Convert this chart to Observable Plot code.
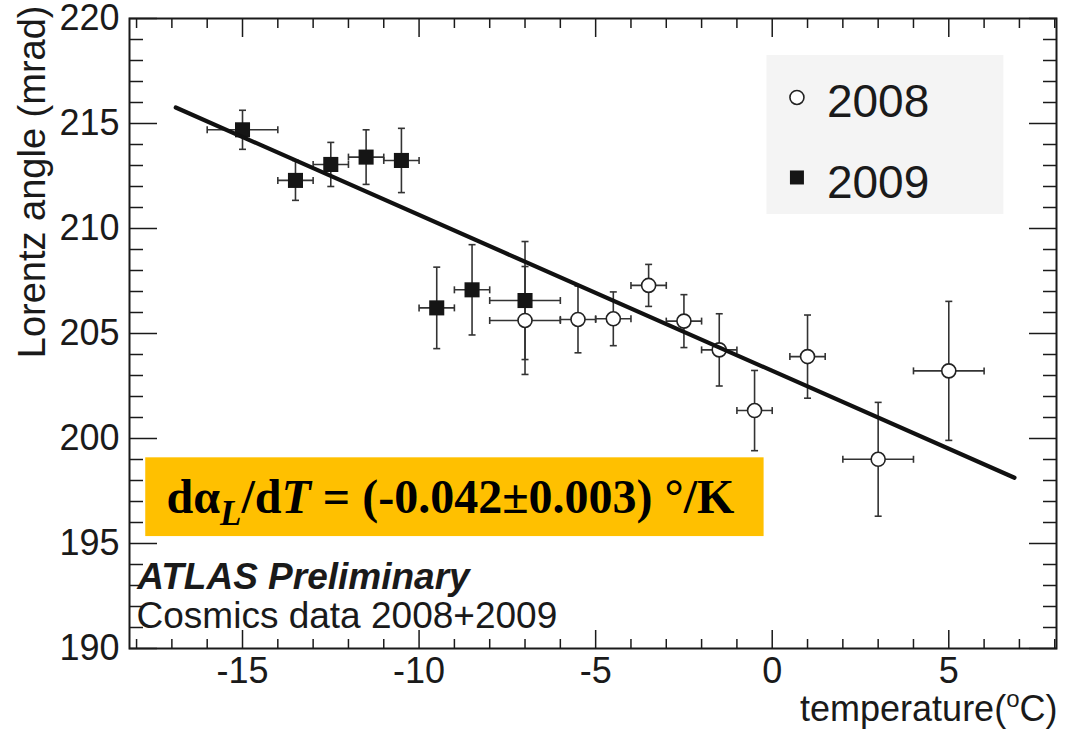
<!DOCTYPE html>
<html><head><meta charset="utf-8">
<script src="https://cdn.jsdelivr.net/npm/d3@7"></script>
<script src="https://cdn.jsdelivr.net/npm/@observablehq/plot@0.6"></script>
<style>body{margin:0;background:#fff;}</style>
</head><body><div id="chart"></div>
<script>
// ---- data ----
const temp2008  = [-7, -5.5, -4.5, -3.5, -2.5, -1.5, -0.5, 1, 3, 5];
const angle2008 = [205.62, 205.67, 205.70, 207.29, 205.59, 204.22, 201.33, 203.90, 199.01, 203.22];
const yErr2008  = [2.57, 1.59, 1.28, 1.00, 1.26, 1.72, 1.91, 1.98, 2.71, 3.31];
const xErr2008  = [1.0, 0.5, 0.5, 0.5, 0.5, 0.5, 0.5, 0.5, 1.0, 1.0];

const temp2009  = [-15, -13.5, -12.5, -11.5, -10.5, -9.5, -8.5, -7];
const angle2009 = [214.70, 212.29, 213.05, 213.40, 213.24, 206.22, 207.08, 206.57];
const yErr2009  = [0.93, 0.95, 1.05, 1.30, 1.53, 1.94, 2.15, 2.81];
const xErr2009  = [1.0, 0.5, 0.5, 0.5, 0.5, 0.5, 0.5, 1.0];

const fitTemp  = [-16.89, 6.86];
const fitAngle = [215.76, 198.13];

const xMajorTicks = [-15, -10, -5, 0, 5];
const xMinorTicks = [-18, -17, -16, -14, -13, -12, -11, -9, -8, -7, -6, -4, -3, -2, -1, 1, 2, 3, 4, 6, 7, 8];
const yMajorTicks = [190, 195, 200, 205, 210, 215, 220];
const yMinorTicks = [191, 192, 193, 194, 196, 197, 198, 199, 201, 202, 203, 204, 206, 207, 208, 209, 211, 212, 213, 214, 216, 217, 218, 219];

const xTitle = "temperature(°C)";
const yTitle = "Lorentz angle (mrad)";
const seriesNames = ["2008", "2009"];
const slopeText = "dα_L/dT = (-0.042±0.003) °/K";
const atlasText = "ATLAS Preliminary";
const dataText = "Cosmics data 2008+2009";

// annotation placement (data units)
const legendBox = {x1: -0.15, x2: 6.56, y1: 210.67, y2: 218.24};
const legendMarkX = 0.70, legendTextX = 1.55;
const legendRowY = [216.24, 212.43];
const legendTextY = [215.30, 211.45];
const slopeBox = {x1: -17.74, x2: -0.23, y1: 195.33, y2: 199.08};
const slopeTextPos = {x: -17.15, y: 196.45};
const atlasPos = {x: -17.98, y: 192.81};
const dataPos = {x: -18.0, y: 191.0};

// ---- tables ----
const pts2008 = temp2008.map((t, i) => ({t, a: angle2008[i], ex: xErr2008[i], ey: yErr2008[i]}));
const pts2009 = temp2009.map((t, i) => ({t, a: angle2009[i], ex: xErr2009[i], ey: yErr2009[i]}));
const allPts = pts2008.concat(pts2009);
const fitPts = fitTemp.map((t, i) => ({t, a: fitAngle[i]}));

const hCap = {draw(ctx, size) { const r = Math.sqrt(size / Math.PI); ctx.moveTo(-r, 0); ctx.lineTo(r, 0); }};
const vCap = {draw(ctx, size) { const r = Math.sqrt(size / Math.PI); ctx.moveTo(0, -r); ctx.lineTo(0, r); }};

const ink = "#1a1a1a";
const barColor = "#333";
const sans = "'Liberation Sans', Arial, Helvetica, sans-serif";
const plain = d => String(d);

const tickAx = (anchor, ticks, size) => (anchor === "bottom" || anchor === "top")
  ? Plot.axisX(ticks, {anchor, tickSize: size, tickFormat: () => "", label: null, strokeWidth: 1.5})
  : Plot.axisY(ticks, {anchor, tickSize: size, tickFormat: () => "", label: null, strokeWidth: 1.5});

const chart = Plot.plot({
  width: 1072,
  height: 734,
  marginLeft: 129,
  marginRight: 16,
  marginTop: 18,
  marginBottom: 86,
  style: {fontFamily: sans, color: ink, background: "#fff", overflow: "visible"},
  x: {domain: [-18.2, 8.05]},
  y: {domain: [190, 220]},
  marks: [
    Plot.rect([legendBox], {x1: "x1", x2: "x2", y1: "y1", y2: "y2", fill: "#f4f4f4"}),
    Plot.rect([slopeBox], {x1: "x1", x2: "x2", y1: "y1", y2: "y2", fill: "#ffc000"}),
    // error bars
    Plot.link(allPts, {x1: d => d.t - d.ex, x2: d => d.t + d.ex, y1: "a", y2: "a", stroke: barColor, strokeWidth: 1.6}),
    Plot.link(allPts, {x1: "t", x2: "t", y1: d => d.a - d.ey, y2: d => d.a + d.ey, stroke: barColor, strokeWidth: 1.6}),
    Plot.dot(allPts, {x: d => d.t - d.ex, y: "a", symbol: vCap, r: 3.5, stroke: barColor, strokeWidth: 1.6, fill: "none"}),
    Plot.dot(allPts, {x: d => d.t + d.ex, y: "a", symbol: vCap, r: 3.5, stroke: barColor, strokeWidth: 1.6, fill: "none"}),
    Plot.dot(allPts, {x: "t", y: d => d.a - d.ey, symbol: hCap, r: 3.5, stroke: barColor, strokeWidth: 1.6, fill: "none"}),
    Plot.dot(allPts, {x: "t", y: d => d.a + d.ey, symbol: hCap, r: 3.5, stroke: barColor, strokeWidth: 1.6, fill: "none"}),
    // markers
    Plot.dot(pts2008, {x: "t", y: "a", r: 7, fill: "#fff", stroke: "#222", strokeWidth: 1.6}),
    Plot.dot(pts2009, {x: "t", y: "a", symbol: "square", r: 8.5, fill: "#151515"}),
    // fit line
    Plot.line(fitPts, {x: "t", y: "a", stroke: "#111", strokeWidth: 4.2}),
    // legend
    Plot.dot([seriesNames[0]], {x: () => legendMarkX, y: () => legendRowY[0], r: 7, fill: "#fff", stroke: "#222", strokeWidth: 1.6}),
    Plot.dot([seriesNames[1]], {x: () => legendMarkX, y: () => legendRowY[1], symbol: "square", r: 7.9, fill: "#151515"}),
    Plot.text(seriesNames, {x: () => legendTextX, y: (d, i) => legendTextY[i], text: d => d, textAnchor: "start", lineAnchor: "bottom", fontSize: 46, fill: ink}),
    // slope annotation
    Plot.text([slopeText], {x: () => slopeTextPos.x, y: () => slopeTextPos.y, text: d => d, textAnchor: "start", lineAnchor: "bottom", fontSize: 48, fontWeight: "bold", fontFamily: "'Liberation Serif', 'Times New Roman', serif", fill: "#000"}),
    // ATLAS labels
    Plot.text([atlasText], {x: () => atlasPos.x, y: () => atlasPos.y, text: d => d, textAnchor: "start", lineAnchor: "bottom", fontSize: 37, fontWeight: "bold", fontStyle: "italic", fill: ink}),
    Plot.text([dataText], {x: () => dataPos.x, y: () => dataPos.y, text: d => d, textAnchor: "start", lineAnchor: "bottom", fontSize: 37, fill: ink}),
    // axis titles
    Plot.text([xTitle], {frameAnchor: "bottom-right", text: d => d, textAnchor: "end", lineAnchor: "bottom", dy: 72, dx: 1, fontSize: 36, fill: ink}),
    Plot.text([yTitle], {frameAnchor: "top-left", text: d => d, rotate: -90, textAnchor: "end", lineAnchor: "bottom", dx: -85, dy: -13, fontSize: 38, fill: ink}),
    // axes
    Plot.axisX(xMajorTicks, {anchor: "bottom", tickSize: 0, tickPadding: 9, fontSize: 36, tickFormat: plain, label: null}),
    Plot.axisY(yMajorTicks, {anchor: "left", tickSize: 0, tickPadding: 10, fontSize: 36, tickFormat: plain, label: null}),
    tickAx("bottom", xMajorTicks, -18), tickAx("bottom", xMinorTicks, -9),
    tickAx("top", xMajorTicks, -18), tickAx("top", xMinorTicks, -9),
    tickAx("left", yMajorTicks, -28), tickAx("left", yMinorTicks, -14),
    tickAx("right", yMajorTicks, -28), tickAx("right", yMinorTicks, -14),
    Plot.frame({stroke: ink, strokeWidth: 2})
  ]
});

// rich text: subscripts / superscripts
const svg = d3.select(chart);
svg.selectAll("text").filter(function() { return this.textContent === slopeText; }).each(function() {
  const t = d3.select(this);
  t.text(null);
  t.append("tspan").text("dα");
  t.append("tspan").attr("font-style", "italic").attr("font-size", 35).attr("dy", 12).text("L");
  t.append("tspan").attr("dy", -12).text("/d");
  t.append("tspan").attr("font-style", "italic").text("T");
  t.append("tspan").text(" = (-0.042±0.003) °/K");
});
svg.selectAll("text").filter(function() { return this.textContent === xTitle; }).each(function() {
  const t = d3.select(this);
  t.text(null);
  t.append("tspan").text("temperature(");
  t.append("tspan").attr("font-size", 24).attr("dy", -14).text("o");
  t.append("tspan").attr("dy", 14).text("C)");
});

document.getElementById("chart").appendChild(chart);
</script>
</body></html>
